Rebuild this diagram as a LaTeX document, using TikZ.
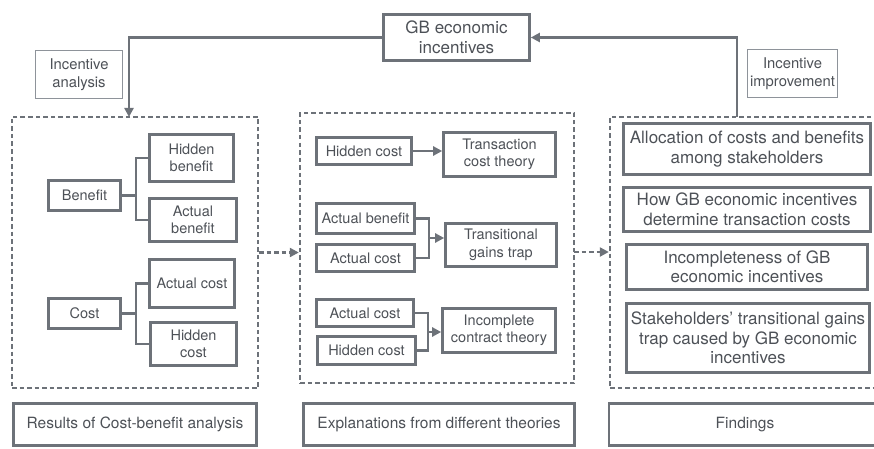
\documentclass[tikz,border=0pt]{standalone}
\usepackage{fontspec}
\setmainfont{TeX Gyre Heros}
\usetikzlibrary{arrows.meta}
\definecolor{edge}{HTML}{6D7279}
\definecolor{ink}{HTML}{4D5157}
\definecolor{soft}{HTML}{8E939A}
\tikzset{
  box/.style={draw=edge, line width=2.6pt, align=center, inner sep=0pt, text=ink,
    font=\fontsize{14.5}{17.5}\selectfont},
  bigbox/.style={box, font=\fontsize{17}{19.5}\selectfont},
  tagbox/.style={draw=soft, line width=1pt, align=center, inner sep=0pt, text=ink,
    font=\fontsize{14.8}{17.5}\selectfont},
  region/.style={draw=edge, line width=2.4pt, dash pattern=on 4.5pt off 3pt, inner sep=0pt},
  link/.style={draw=edge, line width=2.6pt},
  dlink/.style={draw=edge, line width=2.4pt, dash pattern=on 4.5pt off 3pt},
  tip/.style={-{Triangle[length=9pt,width=9pt]}},
}
\begin{document}
\begin{tikzpicture}[x=1pt,y=-1pt]
\useasboundingbox (0,0) rectangle (874,449);
\clip (0,0) rectangle (874,449);

% top node and the two side tags
\node[bigbox, minimum width=146pt, minimum height=46pt] (gb) at (456.5,37.5) {GB economic\\incentives};
\node[tagbox, minimum width=87pt, minimum height=48pt] (ia) at (79,74.5) {Incentive\\analysis};
\node[tagbox, minimum width=90pt, minimum height=48pt] (ii) at (792.5,73.5) {Incentive\\improvement};

% three dashed regions
\node[region, minimum width=246pt, minimum height=271pt] (L) at (135,252.5) {};
\node[region, minimum width=274pt, minimum height=270pt] (M) at (437,248) {};
\node[region, minimum width=280pt, minimum height=271pt] (R) at (750,252.5) {};
\coordinate (la) at (129,117);
\coordinate (ra) at (737,117);
\coordinate (mo) at (574,252);

% cost-benefit analysis
\node[box, minimum width=72pt, minimum height=30pt] (ben) at (84.5,195.5) {Benefit};
\node[box, minimum width=84pt, minimum height=47pt] (hb) at (191.5,158) {Hidden\\benefit};
\node[box, minimum width=87pt, minimum height=43pt] (ab) at (193,220) {Actual\\benefit};
\node[box, minimum width=72pt, minimum height=30pt] (cost) at (84.5,313.5) {Cost};
\node[box, minimum width=85pt, minimum height=48pt] (ac) at (192,283.5) {Actual cost};
\node[box, minimum width=86pt, minimum height=43pt] (hc) at (193.5,344) {Hidden\\cost};

\draw[link] (ben.east) -- ++(14,0) coordinate (bj);
\draw[link] (hb.west) -| (bj) |- (ab.west);
\draw[link] (cost.east) -- ++(14,0) coordinate (cj);
\draw[link] (ac.west) -| (cj) |- (hc.west);

% explanations from theories
\node[box, minimum width=95pt, minimum height=27pt] (mhc) at (364,151) {Hidden cost};
\node[box, minimum width=112pt, minimum height=44pt] (tct) at (499.5,154.5) {Transaction\\cost theory};
\node[box, minimum width=98pt, minimum height=30pt] (mab) at (365.5,218.5) {Actual benefit};
\node[box, minimum width=98pt, minimum height=27pt] (mac) at (365.5,258) {Actual cost};
\node[box, minimum width=111pt, minimum height=43pt] (tgt) at (501,245) {Transitional\\gains trap};
\node[box, minimum width=97pt, minimum height=27pt] (mac2) at (365,313) {Actual cost};
\node[box, minimum width=98pt, minimum height=28pt] (mhc2) at (366.5,350.5) {Hidden cost};
\node[box, minimum width=113pt, minimum height=44pt] (ict) at (499,330.5) {Incomplete\\contract theory};

\draw[link,tip] (mhc.east) -- (mhc.east -| tct.west);

\coordinate (tj) at (429,238);
\draw[link] (mab.east) -| (tj) |- (mac.east);
\draw[link,tip] (tj) -- (tj -| tgt.west);

\coordinate (ij) at (428,332);
\draw[link] (mac2.east) -| (ij) |- (mhc2.east);
\draw[link,tip] (ij) -- (ij -| ict.west);

% findings
\node[bigbox, minimum width=247pt, minimum height=51pt] (r1) at (747,149) {Allocation of costs and benefits\\among stakeholders};
\node[bigbox, minimum width=247pt, minimum height=44pt] (r2) at (747,209.5) {How GB economic incentives\\determine transaction costs};
\node[bigbox, minimum width=241pt, minimum height=45pt] (r3) at (747,267) {Incompleteness of GB\\economic incentives};
\node[bigbox, minimum width=243pt, minimum height=69pt] (r4) at (748,338) {Stakeholders’ transitional gains\\trap caused by GB economic\\incentives};

% captions
\node[box, font=\fontsize{15.5}{18}\selectfont, minimum width=243pt, minimum height=42pt] (b1) at (135,424.5) {Results of Cost-benefit analysis};
\node[box, font=\fontsize{15.5}{18}\selectfont, minimum width=271pt, minimum height=42pt] (b2) at (439,424.5) {Explanations from different theories};
\node[box, font=\fontsize{15.5}{18}\selectfont, minimum width=280pt, minimum height=42pt] (b3) at (749,424.5) {};
\node[text=ink, font=\fontsize{15.5}{18}\selectfont, inner sep=0pt] (fl) at (745,424.5) {Findings};

% flow between regions
\draw[dlink,tip] (L.east) -- (L.east -| M.west);
\draw[dlink,tip] (mo) -- (mo -| R.west);

% feedback loop through the incentives
\draw[link,tip] (gb.west) -| (la);
\draw[link,tip] (ra) |- (gb.east);
\end{tikzpicture}
\end{document}
